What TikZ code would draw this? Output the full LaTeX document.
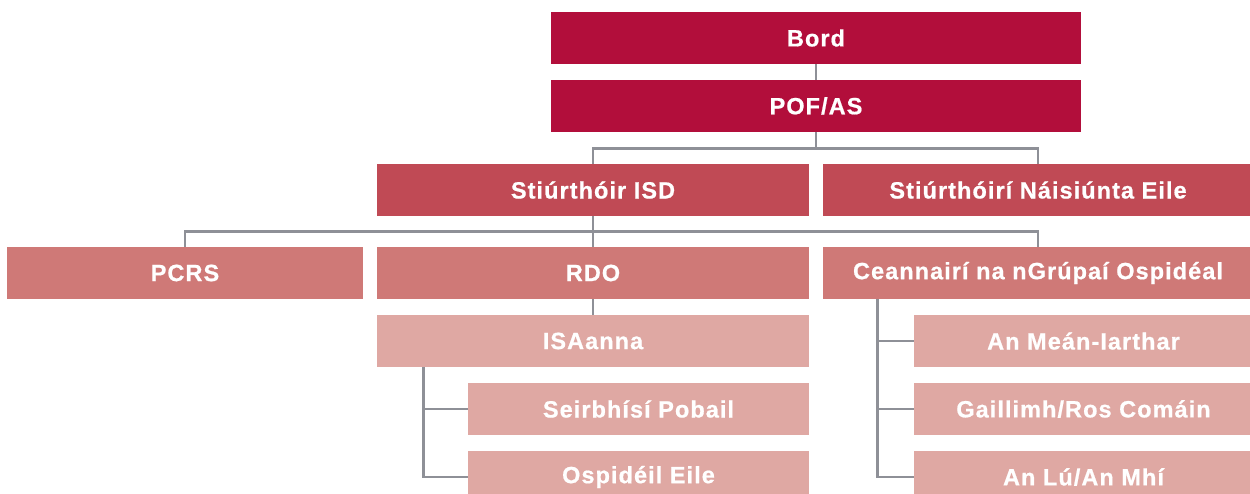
\documentclass[tikz,border=0pt]{standalone}
\usepackage{fontspec}
\setmainfont{Liberation Sans}[LetterSpace=4.5]
\newfontfamily\boxfont{Liberation Sans}[LetterSpace=4.5, FakeBold=0.7]
\definecolor{cA}{HTML}{B20E3B}
\definecolor{cB}{HTML}{C04A55}
\definecolor{cC}{HTML}{CF7977}
\definecolor{cD}{HTML}{DFA8A3}
\definecolor{lnc}{HTML}{8E9097}
\tikzset{
  box/.style={draw=none, text=white, font=\boxfont\fontsize{23.5}{27}\selectfont\bfseries, inner sep=0pt, anchor=center},
  conn/.style={draw=lnc, line width=2.8pt},
}
\newcommand{\bx}[7]{%
  \node[box, fill=#6, minimum width={(#4-#2)*1pt}, minimum height={(#5-#3)*1pt}]
    (#1) at ({(#2+#4)/2*1pt},{-(#3+#5)/2*1pt}) {#7};}
\begin{document}
\begin{tikzpicture}
\useasboundingbox (0,0) rectangle (1250pt,-494pt);
\clip (0,0) rectangle (1250pt,-494pt);
\bx{bord}{551}{12}{1081}{64}{cA}{Bord}
\bx{pof}{551}{80}{1081}{132}{cA}{POF/AS}
\bx{isd}{377}{164}{809}{216}{cB}{Stiúrthóir ISD}
\bx{sne}{823}{164}{1253}{216}{cB}{Stiúrthóirí Náisiúnta Eile}
\bx{pcrs}{7}{247}{363}{299}{cC}{PCRS}
\bx{rdo}{377}{247}{809}{299}{cC}{RDO}
\bx{cean}{823}{247}{1253}{299}{cC}{Ceannairí na nGrúpaí Ospidéal}
\bx{isa}{377}{315}{809}{367}{cD}{ISAanna}
\bx{seir}{468}{383}{809}{435}{cD}{Seirbhísí Pobail}
\bx{osp}{468}{451}{809}{503}{cD}{Ospidéil Eile}
\bx{mean}{914}{315}{1253}{367}{cD}{An Meán-Iarthar}
\bx{gail}{914}{383}{1253}{435}{cD}{Gaillimh/Ros Comáin}
\bx{lu}{914}{451}{1253}{503}{cD}{An Lú/An Mhí}
\draw[conn] (bord.south) -- (pof.north);
\draw[conn] (pof.south) -- ++(0,-16pt) -| (isd.north);
\draw[conn] (pof.south) -- ++(0,-16pt) -| (sne.north);
\draw[conn] (isd.south) -- ++(0,-15pt) -| (pcrs.north);
\draw[conn] (isd.south) -- (rdo.north);
\draw[conn] (isd.south) -- ++(0,-15pt) -| (cean.north);
\draw[conn] (rdo.south) -- (isa.north);
\coordinate (isaL) at ([xshift=47pt]isa.south west);
\draw[conn] (isaL) |- (seir.west);
\draw[conn] (isaL) |- (osp.west);
\coordinate (ceanL) at ([xshift=55pt]cean.south west);
\draw[conn] (ceanL) |- (mean.west);
\draw[conn] (ceanL) |- (gail.west);
\draw[conn] (ceanL) |- (lu.west);
\end{tikzpicture}
\end{document}
